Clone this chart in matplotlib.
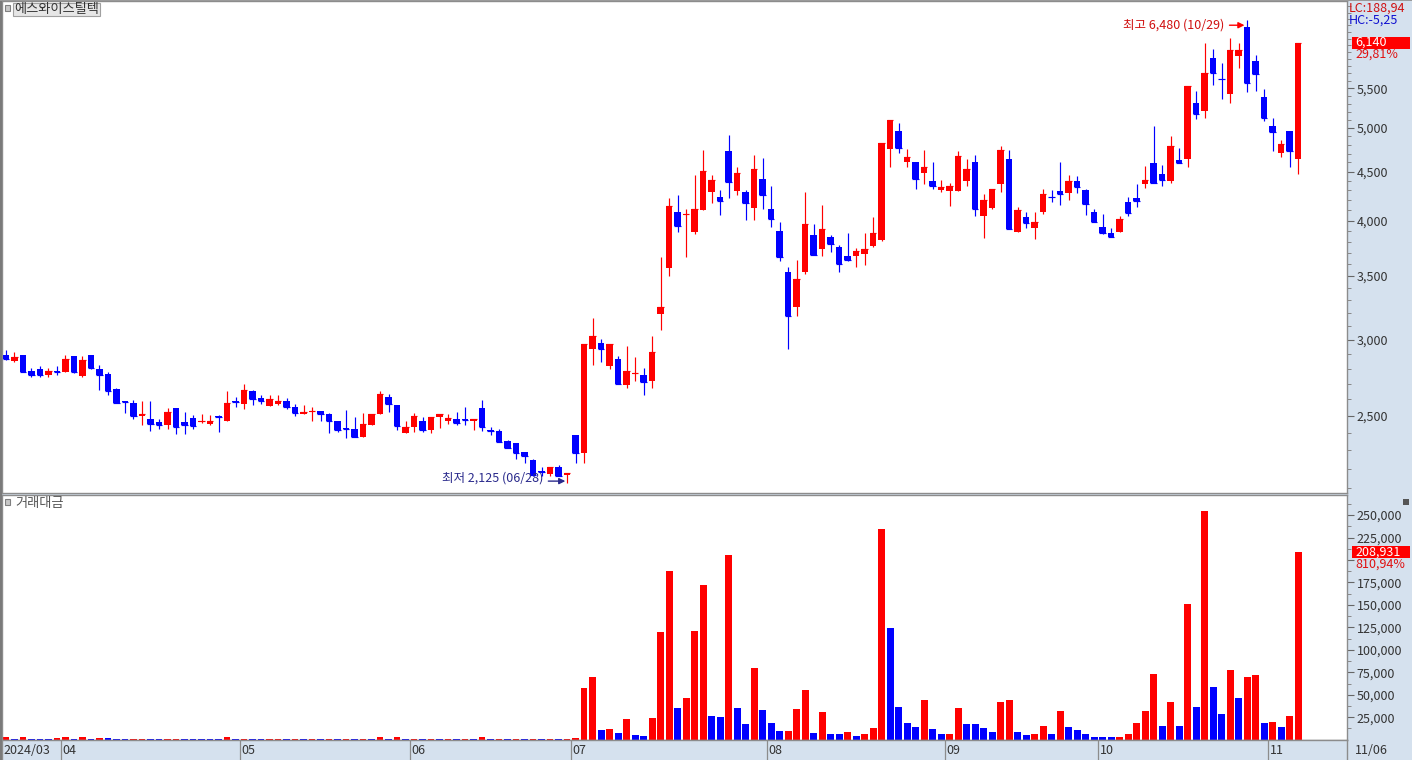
import numpy as np
import matplotlib
matplotlib.use("Agg")
import matplotlib.pyplot as plt
from matplotlib.ticker import FixedLocator, NullFormatter, FuncFormatter
from matplotlib.patches import Rectangle
from matplotlib.transforms import offset_copy

plt.rcParams['font.family'] = ['Noto Sans CJK KR', 'DejaVu Sans']

# ---------------- data ----------------
title = "에스와이스틸텍"
vol_title = "거래대금"
month_labels = ["2024/03", "04", "05", "06", "07", "08", "09", "10", "11"]
month_counts = [7, 21, 20, 19, 23, 21, 18, 20, 4]
last_date = "11/06"

opens = [2895, 2855, 2890, 2785, 2795, 2760, 2785, 2780, 2885, 2750,
         2895, 2795, 2765, 2665, 2590, 2575, 2495, 2480, 2460, 2445,
         2545, 2460, 2485, 2460, 2450, 2500, 2470, 2590, 2570, 2655,
         2610, 2560, 2570, 2590, 2555, 2510, 2525, 2530, 2510, 2465,
         2425, 2420, 2375, 2445, 2510, 2615, 2565, 2400, 2430, 2470,
         2415, 2490, 2470, 2480, 2480, 2470, 2545, 2415, 2410, 2350,
         2340, 2290, 2245, 2190, 2170, 2210, 2165, 2385, 2285, 2935,
         2980, 2820, 2865, 2690, 2765, 2760, 2715, 3195, 3570, 4085,
         4055, 3895, 4105, 4285, 4235, 4730, 4295, 4280, 4125, 4420,
         4110, 3900, 3530, 3245, 3530, 3865, 3735, 3840, 3755, 3675,
         3675, 3690, 3760, 3815, 4750, 4960, 4600, 4600, 4490, 4400,
         4305, 4295, 4295, 4395, 4610, 4040, 4125, 4365, 4640, 3895,
         4030, 3930, 4085, 4235, 4295, 4270, 4400, 4305, 4080, 3935,
         3880, 3895, 4185, 4225, 4365, 4590, 4475, 4395, 4630, 4635,
         5310, 5210, 5920, 5630, 5430, 5940, 6380, 5870, 5380, 5020,
         4710, 4960, 4640]
highs = [2930, 2915, 2895, 2805, 2815, 2805, 2820, 2895, 2885, 2885,
         2895, 2825, 2775, 2670, 2590, 2595, 2590, 2590, 2480, 2545,
         2545, 2520, 2505, 2510, 2505, 2505, 2650, 2615, 2700, 2660,
         2625, 2625, 2630, 2610, 2570, 2565, 2555, 2530, 2515, 2465,
         2535, 2490, 2515, 2510, 2655, 2635, 2565, 2465, 2515, 2490,
         2490, 2510, 2510, 2525, 2555, 2480, 2595, 2435, 2420, 2360,
         2340, 2290, 2250, 2210, 2210, 2220, 2180, 2385, 2970, 3160,
         3005, 2970, 2885, 2955, 2880, 2805, 3030, 3665, 4220, 4255,
         4110, 4465, 4740, 4465, 4305, 4915, 4555, 4305, 4685, 4655,
         4345, 3985, 3580, 3640, 4285, 3965, 4155, 3865, 3770, 3880,
         3745, 3880, 4030, 4825, 5100, 5060, 4750, 4600, 4740, 4610,
         4410, 4375, 4730, 4640, 4685, 4265, 4320, 4790, 4740, 4135,
         4080, 4080, 4315, 4305, 4610, 4465, 4455, 4315, 4110, 4060,
         3930, 4045, 4235, 4370, 4560, 5025, 4575, 4905, 4765, 5530,
         5470, 6140, 6050, 5850, 6210, 6140, 6480, 5960, 5490, 5120,
         4855, 4960, 6140]
lows = [2860, 2845, 2775, 2745, 2745, 2745, 2760, 2775, 2770, 2745,
        2795, 2660, 2625, 2575, 2515, 2480, 2445, 2410, 2420, 2420,
        2390, 2390, 2420, 2455, 2445, 2405, 2470, 2555, 2540, 2565,
        2570, 2560, 2565, 2540, 2495, 2510, 2470, 2465, 2400, 2405,
        2370, 2375, 2375, 2445, 2510, 2525, 2415, 2400, 2405, 2405,
        2395, 2425, 2450, 2445, 2445, 2415, 2410, 2385, 2345, 2310,
        2250, 2230, 2160, 2160, 2160, 2160, 2125, 2230, 2230, 2825,
        2845, 2800, 2700, 2675, 2720, 2625, 2670, 3075, 3500, 3895,
        3665, 3870, 4105, 4170, 4055, 4220, 4255, 4005, 4005, 4110,
        3940, 3630, 2935, 3180, 3515, 3680, 3675, 3710, 3535, 3625,
        3580, 3590, 3755, 3810, 4555, 4710, 4555, 4315, 4370, 4315,
        4285, 4145, 4295, 4350, 4040, 3835, 4110, 4285, 3915, 3895,
        3925, 3825, 4065, 4180, 4155, 4205, 4270, 4050, 3985, 3870,
        3840, 3895, 4040, 4135, 4325, 4380, 4350, 4375, 4590, 4550,
        5110, 5120, 5540, 5360, 5310, 5770, 5450, 5470, 5080, 4730,
        4665, 4545, 4470]
closes = [2865, 2880, 2780, 2760, 2760, 2785, 2780, 2865, 2780, 2860,
          2805, 2760, 2655, 2580, 2585, 2495, 2510, 2450, 2445, 2520,
          2435, 2445, 2440, 2465, 2470, 2490, 2580, 2585, 2660, 2600,
          2590, 2600, 2590, 2550, 2515, 2525, 2530, 2510, 2465, 2415,
          2420, 2375, 2450, 2510, 2635, 2570, 2440, 2430, 2500, 2415,
          2490, 2510, 2485, 2455, 2475, 2480, 2435, 2410, 2345, 2315,
          2285, 2270, 2165, 2185, 2210, 2160, 2180, 2285, 2970, 3030,
          2935, 2970, 2700, 2785, 2770, 2710, 2915, 3250, 4145, 3950,
          4060, 4110, 4505, 4410, 4195, 4385, 4490, 4175, 4530, 4250,
          4015, 3665, 3175, 3475, 3965, 3680, 3920, 3780, 3605, 3640,
          3715, 3735, 3880, 4825, 5100, 4765, 4660, 4420, 4545, 4350,
          4340, 4345, 4675, 4530, 4110, 4205, 4315, 4740, 3915, 4105,
          3975, 3985, 4265, 4230, 4260, 4395, 4340, 4160, 3990, 3880,
          3840, 4015, 4075, 4195, 4410, 4380, 4405, 4785, 4590, 5530,
          5170, 5710, 5700, 5620, 6030, 6030, 5570, 5690, 5120, 4955,
          4810, 4730, 6140]
volumes = [2800, 1200, 2700, 1300, 1100, 900, 1400, 2600, 1200, 2500,
           1100, 2400, 2200, 1200, 900, 1000, 1300, 1100, 900, 1100,
           1300, 1100, 1000, 900, 800, 700, 2600, 1100, 1300, 1100,
           900, 1100, 1300, 1000, 1200, 1000, 1200, 1000, 1200, 900,
           1100, 900, 1100, 1000, 2500, 1100, 2600, 1100, 1300, 1000,
           1200, 900, 1100, 900, 1100, 1000, 2500, 1100, 1200, 1000,
           1100, 900, 1100, 900, 1200, 1000, 1300, 2000, 57900, 70100,
           10800, 11900, 7500, 23000, 5200, 4100, 24100, 119500, 187700, 35300,
           46400, 120900, 172100, 26400, 25300, 205500, 35300, 17500, 79800, 33000,
           18600, 9600, 9900, 34200, 55300, 7500, 30800, 6300, 6200, 8600,
           4100, 6300, 13000, 234400, 124300, 36400, 18600, 14100, 44200, 11900,
           6300, 6500, 35300, 17500, 17400, 13000, 8600, 41900, 44200, 8600,
           5200, 6300, 15200, 6300, 31900, 14100, 10800, 6300, 3000, 2900,
           2800, 3200, 6300, 18600, 31900, 73100, 15200, 41900, 15000, 151000,
           36400, 254500, 58600, 28600, 77500, 46400, 69800, 72000, 18600, 19700,
           14100, 26400, 208931]

price_ticks = [2500, 3000, 3500, 4000, 4500, 5000, 5500]
vol_ticks = [25000, 50000, 75000, 100000, 125000, 150000, 175000, 200000, 225000, 250000]
lc_text = "LC:188,94"
hc_text = "HC:-5,25"
price_change_text = "29,81%"
vol_change_text = "810,94%"
high_label = "최고 6,480 (10/29)"
low_label = "최저 2,125 (06/28)"

# ---------------- style ----------------
W, H = 1412, 760
RED = "#FF0000"
BLUE = "#0000FF"
STRIP = "#D5E1EE"
EDGE = "#8C8C8C"
TXT = "#333333"
LOWC = "#2A2A8C"
FS = 9

fig = plt.figure(figsize=(W / 100, H / 100), dpi=100)
fig.patch.set_facecolor(STRIP)


def fr(x0, y0, x1, y1):
    return [x0 / W, 1 - y1 / H, (x1 - x0) / W, (y1 - y0) / H]


ax_p = fig.add_axes(fr(2, 1, 1347, 493))
ax_v = fig.add_axes(fr(2, 495, 1347, 740))
ax_d = fig.add_axes(fr(2, 740, 1347, 760))

n = len(closes)
x = np.arange(n)
o = np.array(opens, float)
c = np.array(closes, float)
hi = np.array(highs, float)
lo = np.array(lows, float)
v = np.array(volumes, float)

cols = [RED if cc >= oo else BLUE for oo, cc in zip(o, c)]
vcols = [RED] + [RED if v[i] >= v[i - 1] else BLUE for i in range(1, n)]

xl = (-0.47, 157.76)

# price candles
ax_p.set_yscale('log')
ax_p.vlines(x, lo, hi, colors=cols, lw=0.85, zorder=2)
ax_p.bar(x, np.abs(c - o), bottom=np.minimum(o, c), width=0.8, color=cols, lw=0, zorder=3)
ax_p.hlines(c, x - 0.4, x + 0.4, colors=cols, lw=0.85, zorder=3)
ax_p.set_xlim(*xl)
ax_p.set_ylim(2075, 6787)

# volume bars
ax_v.bar(x, v, width=0.82, color=vcols, lw=0)
ax_v.set_xlim(*xl)
ax_v.set_ylim(-350, 272300)

for ax in (ax_p, ax_v):
    ax.set_facecolor("white")
    for s in ax.spines.values():
        s.set_color(EDGE)
        s.set_linewidth(1)
    ax.set_xticks([])
    ax.yaxis.tick_right()
    ax.tick_params(axis='y', which='major', direction='out', length=5, width=0.8,
                   color="#666666", labelcolor=TXT, labelsize=FS, pad=2)
    ax.tick_params(axis='y', which='minor', direction='out', length=3, width=0.7,
                   color="#888888")

ax_p.yaxis.set_major_locator(FixedLocator(price_ticks))
ax_p.yaxis.set_major_formatter(
    FuncFormatter(lambda val, pos: "" if abs(np.log(val / c[-1])) < 0.03 else f"{int(round(val)):,}"))
minor_p = [m for m in range(2100, 6800, 100) if m not in price_ticks]
ax_p.yaxis.set_minor_locator(FixedLocator(minor_p))
ax_p.yaxis.set_minor_formatter(NullFormatter())

ax_v.yaxis.set_major_locator(FixedLocator(vol_ticks))
ax_v.yaxis.set_major_formatter(
    FuncFormatter(lambda val, pos: "" if abs(val - v[-1]) < 15000 else f"{int(round(val)):,}"))
ax_v.yaxis.set_minor_locator(FixedLocator([t - 12500 for t in vol_ticks] + [262500]))
ax_v.yaxis.set_minor_formatter(NullFormatter())

# date strip
ax_d.set_facecolor(STRIP)
ax_d.set_xlim(*xl)
ax_d.set_ylim(0, 1)
ax_d.set_xticks([])
ax_d.set_yticks([])
for s in ax_d.spines.values():
    s.set_color(EDGE)
    s.set_linewidth(1)
ax_d.spines['bottom'].set_visible(False)
starts = np.cumsum([0] + month_counts[:-1])
for k, (lab, st) in enumerate(zip(month_labels, starts)):
    if k == 0:
        ax_d.text(xl[0] + 0.15, 0.45, lab, ha='left', va='center', fontsize=FS, color=TXT)
    else:
        ax_d.axvline(st - 0.5, color="#8C8C8C", lw=0.9)
        ax_d.text(st - 0.5 + 0.18, 0.45, lab, ha='left', va='center', fontsize=FS, color=TXT)

# annotations for high / low
ih = int(np.argmax(hi))
il = int(np.argmin(lo))
tr_hi = offset_copy(ax_p.transData, fig=fig, x=0, y=-5, units='dots')
ax_p.annotate("", xy=(ih - 0.3, hi[ih]), xycoords=tr_hi, xytext=(-15, 0), textcoords='offset pixels',
              arrowprops=dict(arrowstyle='-|>', color=RED, lw=1, mutation_scale=9,
                              shrinkA=0, shrinkB=0))
ax_p.annotate(high_label, xy=(ih - 0.3, hi[ih]), xycoords=tr_hi, xytext=(-20, 0),
              textcoords='offset pixels', ha='right', va='center', fontsize=FS, color="#D01010")
tr_lo = offset_copy(ax_p.transData, fig=fig, x=0, y=2, units='dots')
ax_p.annotate("", xy=(il - 0.2, lo[il]), xycoords=tr_lo, xytext=(-17, 0), textcoords='offset pixels',
              arrowprops=dict(arrowstyle='-|>', color=LOWC, lw=1, mutation_scale=9,
                              shrinkA=0, shrinkB=0))
ax_p.annotate(low_label, xy=(il - 0.2, lo[il]), xycoords=tr_lo, xytext=(-22, 3),
              textcoords='offset pixels', ha='right', va='center', fontsize=FS, color=LOWC)

# overlay in pixel coordinates for decorations
ax_o = fig.add_axes([0, 0, 1, 1], zorder=10)
ax_o.set_xlim(0, W)
ax_o.set_ylim(H, 0)
ax_o.axis('off')
ax_o.patch.set_alpha(0)

ax_o.add_patch(Rectangle((0, 0), 2, H, color="#7A7A7A", lw=0))
ax_o.add_patch(Rectangle((0, 0), W, 1, color="#9A9A9A", lw=0))

# panel titles
ax_o.add_patch(Rectangle((5, 5), 5, 6, facecolor="#C8C8C8", edgecolor="#808080", lw=0.8))
ax_o.add_patch(Rectangle((13, 3), 87, 13, facecolor="#E6E6E6", edgecolor="#A0A0A0", lw=0.8))
ax_o.text(56.5, 9.5, title, ha='center', va='center', fontsize=9.5, color=TXT)
ax_o.add_patch(Rectangle((5, 499), 5, 6, facecolor="#C8C8C8", edgecolor="#808080", lw=0.8))
ax_o.text(15, 503, vol_title, ha='left', va='center', fontsize=9.5, color="#555555")


# right side labels
def py(ax, val):
    return H - ax.transData.transform((0, val))[1]


ax_o.text(1349, 8, lc_text, ha='left', va='center', fontsize=FS, color="#D01010")
ax_o.text(1349, 20, hc_text, ha='left', va='center', fontsize=FS, color="#1010D0")

yc = py(ax_p, c[-1])
ax_o.add_patch(Rectangle((1352, yc - 6), 58, 12, color=RED, lw=0))
ax_o.text(1355, yc, f"{int(c[-1]):,}", ha='left', va='center', fontsize=FS, color="white")
ax_o.text(1355, yc + 12, price_change_text, ha='left', va='center', fontsize=FS, color="#E01010")

yv = py(ax_v, v[-1])
ax_o.add_patch(Rectangle((1352, yv - 6), 58, 12, color=RED, lw=0))
ax_o.text(1355, yv, f"{int(v[-1]):,}", ha='left', va='center', fontsize=FS, color="white")
ax_o.text(1355, yv + 12, vol_change_text, ha='left', va='center', fontsize=FS, color="#E01010")

ax_o.add_patch(Rectangle((1403, 499), 6, 6, facecolor="#555555", lw=0))
ax_o.text(1355, 750, last_date, ha='left', va='center', fontsize=FS, color=TXT)

fig.savefig("out.png", dpi=100, facecolor=fig.get_facecolor())
